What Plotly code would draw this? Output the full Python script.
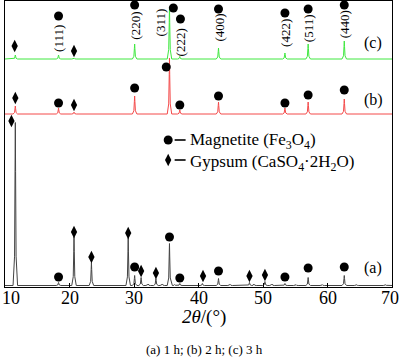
import plotly.graph_objects as go

# ---------------- data ----------------
# peak positions (2theta, degrees)
mag_pos = [18.3, 30.1, 35.5, 37.1, 43.1, 53.4, 57.0, 62.6]
mag_hkl = ["(111)", "(220)", "(311)", "(222)", "(400)", "(422)", "(511)", "(440)"]
gyp_pos_a = [11.6, 20.7, 23.4, 29.1, 31.1, 33.4, 40.6, 47.9, 50.3]
gyp_pos_bc = [11.6, 20.7]
minor_pos = [32.2, 34.4, 36.3, 44.9, 48.6, 51.4, 55.1, 59.2, 64.5, 69.0]

# peak heights (arbitrary intensity units)
a_mag_h = [3, 10, 42, 2, 7, 2, 8, 10]
a_gyp_h = [163, 49, 23, 48, 8, 7, 2, 3, 4]
a_minor_h = [1.5, 1.5, 1.0, 1.2, 1.5, 1.5, 1.0, 1.0, 1.0, 1.0]
b_mag_h = [6, 18, 56, 4, 12, 6, 12, 15]
b_gyp_h = [8, 2]
c_mag_h = [4, 15, 52, 2.5, 11, 6, 15, 18]
c_gyp_h = [4, 1]

# vertical offsets of the three patterns
offsets = {"a": 1.5, "b": 173, "c": 228}

# phase-marker positions (2theta, level)
a_mag_mk_x = [18.3, 30.1, 35.5, 37.1, 43.1, 53.4, 57.0, 62.6]
a_mag_mk_y = [10, 20, 50, 9, 16, 10, 19, 20]
a_gyp_mk_x = [11.0, 20.7, 23.4, 29.1, 31.1, 33.4, 40.7, 47.9, 50.3]
a_gyp_mk_y = [166, 55, 30, 54, 16, 14, 11, 11, 12]
b_mag_mk_x = [18.3, 30.1, 35.0, 37.1, 43.1, 53.4, 57.0, 62.6]
b_mag_mk_y = [184, 199, 220, 182, 191, 184, 192, 197]
b_gyp_mk_x = [11.6, 20.7]
b_gyp_mk_y = [189, 182]
c_mag_mk_x = [18.3, 30.1, 36.1, 37.2, 43.1, 53.4, 57.0, 62.6]
c_mag_mk_y = [271, 282, 279, 268, 278, 274, 278, 282]
c_gyp_mk_x = [11.5, 20.7]
c_gyp_mk_y = [241, 236]
hkl_x = [18.2, 30.1, 34.1, 37.2, 43.1, 53.4, 57.0, 62.6]
hkl_y = [249, 261, 265, 245, 259, 254, 259, 263]

x_ticks = [10, 20, 30, 40, 50, 60, 70]
x_tick_shift = [6, 0, 0, 0, 0, 0, -2]

series_labels = ["(a)", "(b)", "(c)"]
series_label_y = [19, 187, 244]

legend_labels = ["Magnetite (Fe<sub>3</sub>O<sub>4</sub>)",
                 "Gypsum (CaSO<sub>4</sub>·2H<sub>2</sub>O)"]
legend_y = [147, 127]

FONT = "Liberation Serif"


def profile(positions, heights, base):
    xs, ys = [10.0], [base]
    pk = sorted(zip(positions, heights))
    for p, h in pk:
        xs += [p - 0.35, p - 0.12, p - 0.04, p, p + 0.04, p + 0.12, p + 0.35]
        ys += [base, base + 0.18 * h, base + 0.7 * h, base + h,
               base + 0.7 * h, base + 0.18 * h, base]
    xs.append(70.0)
    ys.append(base)
    return xs, ys


fig = go.Figure()

xa, ya = profile(mag_pos + gyp_pos_a + minor_pos, a_mag_h + a_gyp_h + a_minor_h, offsets["a"])
xb, yb = profile(mag_pos + gyp_pos_bc, b_mag_h + b_gyp_h, offsets["b"])
xc, yc = profile(mag_pos + gyp_pos_bc, c_mag_h + c_gyp_h, offsets["c"])

fig.add_trace(go.Scatter(x=xa, y=ya, mode="lines", line=dict(color="#444444", width=1)))
fig.add_trace(go.Scatter(x=xb, y=yb, mode="lines", line=dict(color="#f44a4a", width=1)))
fig.add_trace(go.Scatter(x=xc, y=yc, mode="lines", line=dict(color="#40e840", width=1)))

dot = dict(symbol="circle", size=9, color="black")
dia = dict(symbol="diamond-tall", size=9, color="black")
for mx, my in [(a_mag_mk_x, a_mag_mk_y), (b_mag_mk_x, b_mag_mk_y), (c_mag_mk_x, c_mag_mk_y)]:
    fig.add_trace(go.Scatter(x=mx, y=my, mode="markers", marker=dot))
for gx, gy in [(a_gyp_mk_x, a_gyp_mk_y), (b_gyp_mk_x, b_gyp_mk_y), (c_gyp_mk_x, c_gyp_mk_y)]:
    fig.add_trace(go.Scatter(x=gx, y=gy, mode="markers", marker=dia))

# legend symbols and dashes
fig.add_trace(go.Scatter(x=[35.3], y=[legend_y[0]], mode="markers", marker=dot))
fig.add_trace(go.Scatter(x=[35.3], y=[legend_y[1]], mode="markers", marker=dia))
for y in legend_y:
    fig.add_trace(go.Scatter(x=[36.3, 38.0], y=[y, y], mode="lines",
                             line=dict(color="black", width=1.6)))

for t, x, y in zip(mag_hkl, hkl_x, hkl_y):
    fig.add_annotation(x=x, y=y, text=t, textangle=-90, showarrow=False,
                       font=dict(family=FONT, size=13, color="black"))

for t, y in zip(series_labels, series_label_y):
    fig.add_annotation(x=67.06, y=y, text=t, showarrow=False,
                       font=dict(family=FONT, size=16, color="black"))

for t, y, ys in zip(legend_labels, legend_y, [-1, -3]):
    fig.add_annotation(x=38.4, y=y, xanchor="left", yanchor="middle", yshift=ys, text=t,
                       showarrow=False, font=dict(family=FONT, size=17, color="black"))

for v, s in zip(x_ticks, x_tick_shift):
    fig.add_annotation(x=v, y=0, yref="paper", yanchor="middle", yshift=-11, xshift=s,
                       text=str(v), showarrow=False,
                       font=dict(family=FONT, size=18, color="black"))

fig.add_annotation(xref="paper", yref="paper", x=0.515, y=0, yshift=-30, yanchor="middle",
                   text="<i>2θ</i>/(°)", showarrow=False,
                   font=dict(family=FONT, size=19, color="black"))
fig.add_annotation(xref="paper", yref="paper", x=0.515, y=0, yshift=-62, yanchor="middle",
                   text="(a) 1 h; (b) 2 h; (c) 3 h", showarrow=False,
                   font=dict(family=FONT, size=13, color="black"))

fig.update_layout(
    width=400, height=359,
    margin=dict(l=4.5, r=8, t=1, b=72, autoexpand=False),
    paper_bgcolor="white", plot_bgcolor="white",
    showlegend=False,
    font=dict(family=FONT, size=16, color="black"),
)
fig.update_xaxes(range=[10, 70], tickvals=x_ticks, ticks="inside", ticklen=4,
                 showticklabels=False, automargin=False,
                 tickcolor="black", showline=True, linecolor="black", linewidth=1,
                 mirror=True, showgrid=False, zeroline=False)
fig.update_yaxes(range=[0, 286], showticklabels=False, ticks="", showline=True,
                 linecolor="black", linewidth=1, mirror=True, showgrid=False,
                 zeroline=False, automargin=False)

fig.write_html("out.html", config={"displayModeBar": False},
               post_script="document.body.style.margin='0';document.body.style.overflow='hidden';")
